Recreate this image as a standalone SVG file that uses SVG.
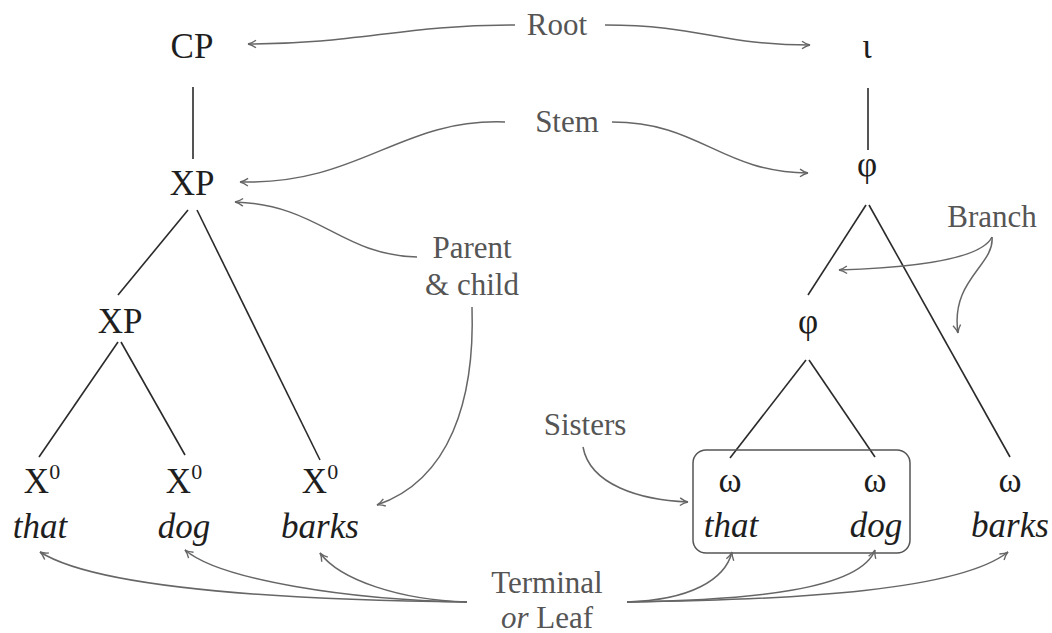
<svg xmlns="http://www.w3.org/2000/svg" width="1052" height="633" viewBox="0 0 1052 633">
<defs>
<style>
.e{stroke:#2a2a2a;stroke-width:1.6;fill:none}
.c{stroke:#666;stroke-width:1.5;fill:none;marker-end:url(#ah)}
</style>
<marker id="ah" markerUnits="userSpaceOnUse" markerWidth="14" markerHeight="12" viewBox="-10 -6 12 12" refX="0" refY="0" orient="auto">
<path d="M-8,-3.8 Q-3.5,-0.6 0,0 Q-3.5,0.6 -8,3.8" stroke="#666" stroke-width="1.4" fill="none"/>
</marker>
</defs>
<rect width="1052" height="633" fill="#fff"/>
<g id="edges">
<line class="e" x1="193" y1="87" x2="193" y2="159"/>
<line class="e" x1="868" y1="88" x2="868" y2="150"/>
<line class="e" x1="188" y1="210" x2="118" y2="295"/>
<line class="e" x1="197" y1="210" x2="320" y2="460"/>
<line class="e" x1="118" y1="342" x2="39" y2="457"/>
<line class="e" x1="121" y1="342" x2="185" y2="455"/>
<line class="e" x1="866" y1="205" x2="808" y2="295"/>
<line class="e" x1="869" y1="205" x2="1010" y2="457"/>
<line class="e" x1="806" y1="360" x2="730" y2="458"/>
<line class="e" x1="809" y1="360" x2="875" y2="457"/>
</g>
<g id="sisters-box"><rect x="693" y="450" width="217" height="103" rx="13" fill="none" stroke="#555" stroke-width="1.5"/></g>
<g id="connectors">
<path class="c" d="M515,25 C400,25 360,44 248,44"/>
<path class="c" d="M605,25 C700,25 720,45 810,45"/>
<path class="c" d="M505,122 C400,118 360,185 240,182"/>
<path class="c" d="M612,122 C700,122 720,172 808,173"/>
<path class="c" d="M417,257 C340,255 320,205 235,202"/>
<path class="c" d="M472,307 C475,400 450,480 377,505"/>
<path class="c" d="M992,237 C980,262 900,268 839,270"/>
<path class="c" d="M992,237 C995,265 950,280 958,333"/>
<path class="c" d="M583,447 C590,485 640,500 688,502"/>
<path class="c" d="M467,602 C300,600 100,590 40,552"/>
<path class="c" d="M467,602 C350,600 220,580 185,550"/>
<path class="c" d="M467,602 C400,600 340,580 320,553"/>
<path class="c" d="M627,602 C690,600 725,580 732,552"/>
<path class="c" d="M627,602 C750,600 860,590 875,550"/>
<path class="c" d="M627,602 C800,600 960,590 1008,552"/>
</g>
<g id="n-cp"><text style="font-family:'Liberation Serif',serif;font-size:35px" fill="#1e1e1e" text-anchor="middle" x="192" y="58">CP</text></g>
<g id="n-xp1"><text style="font-family:'Liberation Serif',serif;font-size:35px" fill="#1e1e1e" text-anchor="middle" x="192" y="195">XP</text></g>
<g id="n-xp2"><text style="font-family:'Liberation Serif',serif;font-size:35px" fill="#1e1e1e" text-anchor="middle" x="120" y="333">XP</text></g>
<g id="n-x0a"><text style="font-family:'Liberation Serif',serif;font-size:35px" fill="#1e1e1e" text-anchor="middle" x="42" y="493">X<tspan style="font-size:22px" dy="-14">0</tspan></text><text style="font-family:'Liberation Serif',serif;font-size:35px;font-style:italic" fill="#1e1e1e" text-anchor="middle" x="40" y="538">that</text></g>
<g id="n-x0b"><text style="font-family:'Liberation Serif',serif;font-size:35px" fill="#1e1e1e" text-anchor="middle" x="184" y="493">X<tspan style="font-size:22px" dy="-14">0</tspan></text><text style="font-family:'Liberation Serif',serif;font-size:35px;font-style:italic" fill="#1e1e1e" text-anchor="middle" x="184" y="538">dog</text></g>
<g id="n-x0c"><text style="font-family:'Liberation Serif',serif;font-size:35px" fill="#1e1e1e" text-anchor="middle" x="320" y="493">X<tspan style="font-size:22px" dy="-14">0</tspan></text><text style="font-family:'Liberation Serif',serif;font-size:35px;font-style:italic" fill="#1e1e1e" text-anchor="middle" x="320" y="538">barks</text></g>
<g id="n-iota"><text style="font-family:'Liberation Serif',serif;font-size:35px" fill="#1e1e1e" text-anchor="middle" x="867" y="58">ι</text></g>
<g id="n-phi1"><text style="font-family:'Liberation Serif',serif;font-size:35px" fill="#1e1e1e" text-anchor="middle" x="867" y="176">φ</text></g>
<g id="n-phi2"><text style="font-family:'Liberation Serif',serif;font-size:35px" fill="#1e1e1e" text-anchor="middle" x="808" y="333">φ</text></g>
<g id="n-wa"><text style="font-family:'Liberation Serif',serif;font-size:35px" fill="#1e1e1e" text-anchor="middle" x="730" y="492">ω</text><text style="font-family:'Liberation Serif',serif;font-size:35px;font-style:italic" fill="#1e1e1e" text-anchor="middle" x="731" y="537">that</text></g>
<g id="n-wb"><text style="font-family:'Liberation Serif',serif;font-size:35px" fill="#1e1e1e" text-anchor="middle" x="875" y="492">ω</text><text style="font-family:'Liberation Serif',serif;font-size:35px;font-style:italic" fill="#1e1e1e" text-anchor="middle" x="876" y="537">dog</text></g>
<g id="n-wc"><text style="font-family:'Liberation Serif',serif;font-size:35px" fill="#1e1e1e" text-anchor="middle" x="1010" y="492">ω</text><text style="font-family:'Liberation Serif',serif;font-size:35px;font-style:italic" fill="#1e1e1e" text-anchor="middle" x="1010" y="537">barks</text></g>
<g id="l-root"><text style="font-family:'Liberation Serif',serif;font-size:31px" fill="#555" text-anchor="middle" x="557" y="35">Root</text></g>
<g id="l-stem"><text style="font-family:'Liberation Serif',serif;font-size:31px" fill="#555" text-anchor="middle" x="567" y="132">Stem</text></g>
<g id="l-parent"><text style="font-family:'Liberation Serif',serif;font-size:31px" fill="#555" text-anchor="middle" x="472" y="258">Parent</text><text style="font-family:'Liberation Serif',serif;font-size:31px" fill="#555" text-anchor="middle" x="472" y="295">&amp; child</text></g>
<g id="l-branch"><text style="font-family:'Liberation Serif',serif;font-size:31px" fill="#555" text-anchor="middle" x="992" y="227">Branch</text></g>
<g id="l-sisters"><text style="font-family:'Liberation Serif',serif;font-size:31px" fill="#555" text-anchor="middle" x="585" y="435">Sisters</text></g>
<g id="l-terminal"><text style="font-family:'Liberation Serif',serif;font-size:31px" fill="#555" text-anchor="middle" x="547" y="593">Terminal</text><text style="font-family:'Liberation Serif',serif;font-size:31px" fill="#555" text-anchor="middle" x="547" y="628"><tspan style="font-style:italic">or</tspan> Leaf</text></g>
</svg>
